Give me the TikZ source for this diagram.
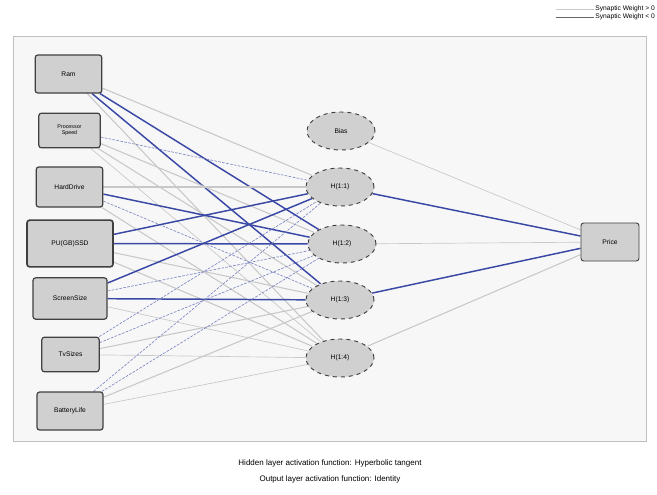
\documentclass[tikz,border=0pt]{standalone}
\usepackage{fontspec}
\setmainfont{Liberation Sans}
\usetikzlibrary{backgrounds}
\definecolor{wneg}{RGB}{58,72,165}
\definecolor{wpos}{RGB}{200,200,200}
\definecolor{nodefill}{RGB}{208,208,208}
\tikzset{
  inbox/.style={draw=black!75,fill=nodefill,rounded corners=2pt,line width=0.9pt,inner sep=0.75pt,font=\fontsize{5}{5.5}\selectfont,align=center},
  hidnode/.style={ellipse,draw=black!75,fill=nodefill,dashed,line width=0.7pt,minimum width=51pt,minimum height=28.5pt,inner sep=0.75pt,font=\fontsize{5}{5.5}\selectfont},
  wp/.style={draw=wpos,line width=0.8pt},
  wpthin/.style={draw=wpos,line width=0.5pt},
  wn/.style={draw=wneg,line width=1.1pt},
  wnthin/.style={draw=wneg!70,line width=0.45pt,dash pattern=on 2pt off 1pt},
}
\usetikzlibrary{shapes.geometric}
\begin{document}
\begin{tikzpicture}[x=0.75pt,y=0.75pt,yscale=-1,xscale=1]
\useasboundingbox (0,0) rectangle (657,494);

%Frame
\begin{scope}[on background layer]
\draw [draw=black!25,fill=black!3] (13,36) rectangle (646,441);
\end{scope}

%Legend
\node (lgpos) [anchor=east,inner sep=0.75pt,font=\fontsize{5}{5.5}\selectfont] at (656,9) {Synaptic Weight > 0};
\node (lgneg) [anchor=east,inner sep=0.75pt,font=\fontsize{5}{5.5}\selectfont] at (656,17) {Synaptic Weight < 0};
\coordinate (lgA) at (556,9);
\coordinate (lgC) at (556,17);
\draw [wpos,line width=0.6pt] (lgA) -- (lgpos.west);
\draw [black!60,line width=0.6pt] (lgC) -- (lgneg.west);

% Input Layer
\node (in1) [inbox,minimum width=50pt,minimum height=28.5pt] at (68.5,74) {Ram};
\node (in2) [inbox,minimum width=46pt,minimum height=26pt,font=\fontsize{4}{4.5}\selectfont] at (69.5,130.5) {Processor\\Speed};
\node (in3) [inbox,minimum width=50pt,minimum height=30pt] at (69.5,187) {HardDrive};
\node (in4) [inbox,minimum width=64.5pt,minimum height=35pt,line width=1.2pt] at (70,243.5) {PU(GB)SSD};
\node (in5) [inbox,minimum width=55.5pt,minimum height=31pt] at (70,298.5) {ScreenSize};
\node (in6) [inbox,minimum width=43pt,minimum height=26pt] at (70.5,354.5) {TvSizes};
\node (in7) [inbox,minimum width=49.5pt,minimum height=28.5pt] at (70,411) {BatteryLife};

% Hidden Layer
\node (hb) [hidnode] at (341,131) {Bias};
\node (h1) [hidnode] at (340,187) {H(1:1)};
\node (h2) [hidnode] at (342,244) {H(1:2)};
\node (h3) [hidnode] at (340,300) {H(1:3)};
\node (h4) [hidnode] at (340,358) {H(1:4)};

% Output Layer
\node (out) [inbox,minimum width=43.5pt,minimum height=28.5pt,line width=0.7pt] at (610,242) {Price};

% Synaptic weights
\begin{scope}[on background layer]
\draw [wp] (in1) -- (h1);
\draw [wn] (in1) -- (h2);
\draw [wn] (in1) -- (h3);
\draw [wp] (in1) -- (h4);
\draw [wnthin] (in2) -- (h1);
\draw [wp] (in2) -- (h2);
\draw [wp] (in2) -- (h3);
\draw [wpthin] (in2) -- (h4);
\draw [wp] (in3) -- (h1);
\draw [wn] (in3) -- (h2);
\draw [wnthin] (in3) -- (h3);
\draw [wp] (in3) -- (h4);
\draw [wn] (in4) -- (h1);
\draw [wn] (in4) -- (h2);
\draw [wp] (in4) -- (h3);
\draw [wp] (in4) -- (h4);
\draw [wn] (in5) -- (h1);
\draw [wnthin] (in5) -- (h2);
\draw [wn] (in5) -- (h3);
\draw [wpthin] (in5) -- (h4);
\draw [wnthin] (in6) -- (h1);
\draw [wnthin] (in6) -- (h2);
\draw [wp] (in6) -- (h3);
\draw [wpthin] (in6) -- (h4);
\draw [wnthin] (in7) -- (h1);
\draw [wnthin] (in7) -- (h2);
\draw [wp] (in7) -- (h3);
\draw [wpthin] (in7) -- (h4);
\draw [wpthin] (hb) -- (out);
\draw [wn] (h1) -- (out);
\draw [wpthin] (h2) -- (out);
\draw [wn] (h3) -- (out);
\draw [wp] (h4) -- (out);
\end{scope}

% Text Node
\node (cap1) [inner sep=0.75pt,font=\fontsize{6}{7}\selectfont] at (330,463) {Hidden layer activation function: Hyperbolic tangent};
% Text Node
\node (cap2) [inner sep=0.75pt,font=\fontsize{6}{7}\selectfont] at (330,479) {Output layer activation function: Identity};

\end{tikzpicture}
\end{document}
